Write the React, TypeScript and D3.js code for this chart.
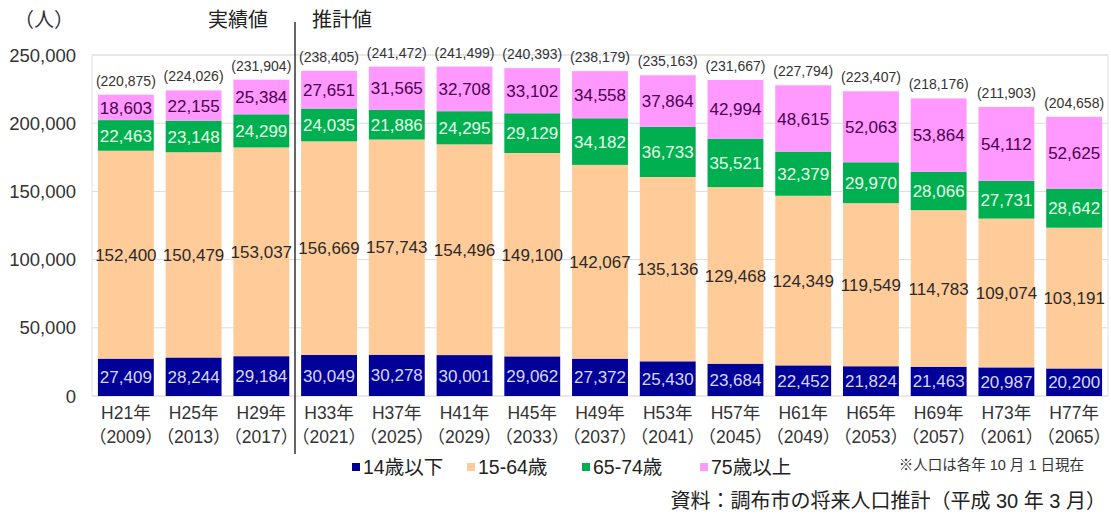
import React from "react";
import * as d3 from "d3";

const categories = ["H21年", "H25年", "H29年", "H33年", "H37年", "H41年", "H45年", "H49年", "H53年", "H57年", "H61年", "H65年", "H69年", "H73年", "H77年"];
const yearLabels = ["（2009）", "（2013）", "（2017）", "（2021）", "（2025）", "（2029）", "（2033）", "（2037）", "（2041）", "（2045）", "（2049）", "（2053）", "（2057）", "（2061）", "（2065）"];
const under14 = [27409, 28244, 29184, 30049, 30278, 30001, 29062, 27372, 25430, 23684, 22452, 21824, 21463, 20987, 20200];
const age15to64 = [152400, 150479, 153037, 156669, 157743, 154496, 149100, 142067, 135136, 129468, 124349, 119549, 114783, 109074, 103191];
const age65to74 = [22463, 23148, 24299, 24035, 21886, 24295, 29129, 34182, 36733, 35521, 32379, 29970, 28066, 27731, 28642];
const age75plus = [18603, 22155, 25384, 27651, 31565, 32708, 33102, 34558, 37864, 42994, 48615, 52063, 53864, 54112, 52625];
const totals = [220875, 224026, 231904, 238405, 241472, 241499, 240393, 238179, 235163, 231667, 227794, 223407, 218176, 211903, 204658];
const yTicks = [0, 50000, 100000, 150000, 200000, 250000];
const seriesNames = ["14歳以下", "15-64歳", "65-74歳", "75歳以上"];

const FONT = "'Liberation Sans', Arial, 'Noto Sans CJK JP', sans-serif";
const JFONT = "'Noto Sans CJK JP', 'Liberation Sans', sans-serif";

const fills = ["#000099", "#FFCC99", "#00B050", "#FF99FF"];
const textColors = ["#D8D8FF", "#2a2a2a", "#E8FFE8", "#4a0050"];

export default function App() {
  const W = 1111, H = 519;
  const left = 92, right = 1108, top = 55, bottom = 396;
  const x = d3.scaleBand<string>().domain(categories).range([left, right]).paddingInner(0.175).paddingOuter(0.0875);
  const y = d3.scaleLinear().domain([0, 250000]).range([bottom, top]);
  const fmt = d3.format(",");

  const rows = categories.map((c, i) => ({
    cat: c,
    s0: under14[i], s1: age15to64[i], s2: age65to74[i], s3: age75plus[i],
  }));
  const stack = d3.stack<any>().keys(["s0", "s1", "s2", "s3"])(rows);

  const legendX = [352, 467, 582, 700];

  return (
    <div style={{ position: "absolute", left: 0, top: 0 }}>
      <svg width={W} height={H} style={{ display: "block", background: "#fff" }}>
        {yTicks.map((t) => (
          <line key={t} x1={left} x2={right} y1={y(t)} y2={y(t)} stroke="#dcdcdc" strokeWidth={1} />
        ))}
        <rect x={left} y={top} width={right - left} height={bottom - top} fill="none" stroke="#e2e2e2" strokeWidth={1} />
        {yTicks.map((t) => (
          <text key={t} x={76} y={y(t)} dy="0.36em" textAnchor="end" fontFamily={FONT} fontSize={18.5} fill="#333">
            {fmt(t)}
          </text>
        ))}
        <text x={14} y={27} fontFamily={JFONT} fontSize={20} fill="#333">（人）</text>
        {stack.map((layer, li) => (
          <g key={li}>
            {layer.map((d, i) => {
              const bx = x(categories[i])!;
              const y0 = y(d[0]), y1 = y(d[1]);
              const v = d[1] - d[0];
              return (
                <g key={i}>
                  <rect x={bx} y={y1} width={x.bandwidth()} height={y0 - y1} fill={fills[li]} />
                  <text x={bx + x.bandwidth() / 2} y={(y0 + y1) / 2} dy="0.36em" textAnchor="middle" fontFamily={FONT} fontSize={17} fill={textColors[li]}>
                    {fmt(v)}
                  </text>
                </g>
              );
            })}
          </g>
        ))}
        {totals.map((t, i) => (
          <text key={i} x={x(categories[i])! + x.bandwidth() / 2} y={y(t) - 14} dy="0.36em" textAnchor="middle" fontFamily={FONT} fontSize={14} fill="#333">
            ({fmt(t)})
          </text>
        ))}
        {categories.map((c, i) => (
          <g key={c}>
            <text x={x(c)! + x.bandwidth() / 2} y={413} dy="0.36em" textAnchor="middle" fontFamily={FONT} fontSize={17.5} fill="#333">{c}</text>
            <text x={x(c)! + x.bandwidth() / 2} y={437} dy="0.36em" textAnchor="middle" fontFamily={FONT} fontSize={17.5} fill="#333">{yearLabels[i]}</text>
          </g>
        ))}
        <line x1={295} x2={295} y1={22} y2={454} stroke="#333" strokeWidth={1.5} />
        <text x={238} y={20} dy="0.36em" textAnchor="middle" fontFamily={JFONT} fontSize={20} fill="#222">実績値</text>
        <text x={312} y={20} dy="0.36em" fontFamily={JFONT} fontSize={20} fill="#222">推計値</text>
        {seriesNames.map((n, i) => (
          <g key={n}>
            <rect x={legendX[i]} y={463} width={8} height={8} fill={fills[i]} />
            <text x={legendX[i] + 11} y={467} dy="0.36em" fontFamily={FONT} fontSize={19.5} fill="#222">{n}</text>
          </g>
        ))}
        <text x={1084} y={465} dy="0.36em" textAnchor="end" fontFamily={FONT} fontSize={14.5} fill="#333">※人口は各年 10 月 1 日現在</text>
        <text x={1106} y={501} dy="0.36em" textAnchor="end" fontFamily={FONT} fontSize={20} fill="#222">資料：調布市の将来人口推計（平成 30 年 3 月）</text>
      </svg>
    </div>
  );
}
